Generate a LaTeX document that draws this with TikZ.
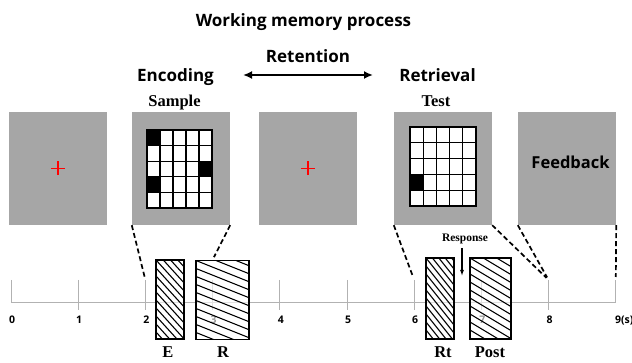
\documentclass[tikz,border=0pt]{standalone}
\usepackage{fontspec}
\setmainfont{Liberation Serif}
\newfontfamily\headfont{Open Sans}
\usetikzlibrary{arrows.meta}

\begin{document}
\begin{tikzpicture}[x=1pt, y=-1pt,
  screen/.style={fill=gray!70, minimum width=98pt, minimum height=113pt, inner sep=0pt},
  phase/.style={anchor=base, font=\headfont\bfseries\fontsize{17}{19}\selectfont},
  stim/.style={anchor=base, font=\bfseries\fontsize{16.5}{18}\selectfont},
  ticklabel/.style={anchor=base, font=\headfont\bfseries\fontsize{10.5}{12}\selectfont},
  link/.style={line width=1.7pt, dash pattern=on 5pt off 3pt, shorten >=3pt},
  slot/.style={draw, line width=1.3pt, fill=white, fill opacity=0.6, minimum height=79pt, inner sep=0pt},
  hatch/.style={path picture={
    \foreach \k in {-12,...,12}
      \draw[line width=1.1pt] ([yshift=-\k*8pt]path picture bounding box.north west) -- ++(70,{70*#1});}},
  cell/.style={draw, fill=white, line width=1.3pt}]

\useasboundingbox (0,0) rectangle (632,363);

\node[phase] (title) at (303.5,27) {Working memory process};
\node[phase] (ret) at (308,63) {Retention};
\node[phase] (enc) at (175.5,82) {Encoding};
\node[phase] (rtv) at (437.5,82) {Retrieval};
\coordinate (retL) at (243,75);
\coordinate (retR) at (373,75);
\draw[{Latex[length=9pt,width=8pt]}-{Latex[length=9pt,width=8pt]}, line width=2.2pt] (retL) -- (retR);

\node[stim] (sample) at (174.5,107) {Sample};
\node[stim] (test) at (436,107) {Test};

\node[screen] (s1) at (58,168.5) {};
\node[screen] (s2) at (181,168.5) {};
\node[screen] (s3) at (308,168.5) {};
\node[screen] (s4) at (443,168.5) {};
\node[screen] (s5) at (567,168.5) {};
\node[anchor=base, font=\headfont\bfseries\fontsize{16.5}{18}\selectfont] (fb) at (570.5,169) {Feedback};

\foreach \s in {s1,s3}
  \draw[red, line width=1.6pt] (\s.center) +(-7,0) -- +(7,0) (\s.center) +(0,-7) -- +(0,7);

\begin{scope}[shift={(147,130)}]
  \foreach \c in {0,...,4}
    \foreach \r in {0,...,4}
      \draw[cell] (\c*13,\r*15.6) rectangle ++(13,15.6);
  \foreach \c/\r in {0/0,4/2,0/3}
    \fill (\c*13,\r*15.6) rectangle ++(13,15.6);
\end{scope}

\begin{scope}[shift={(410,127)}]
  \foreach \c in {0,...,4}
    \foreach \r in {0,...,4}
      \draw[cell] (\c*13.2,\r*15.8) rectangle ++(13.2,15.8);
  \fill (0,3*15.8) rectangle ++(13.2,15.8);
\end{scope}

\draw[gray!60, line width=0.7pt] (11,302) -- (616,302);
\foreach \i in {0,...,9}{
  \coordinate (t\i) at ({11+67.2*\i},280);
  \draw[gray!60, line width=0.7pt] (t\i) -- ++(0,22);
}
\foreach \i in {1,...,8}
  \draw[gray!60, line width=0.7pt] ([yshift=-22pt]t\i) -- ++(0,8);
\foreach \i in {0,...,8}
  \node[ticklabel] at ({12+67.2*\i},324) {\i};
\node[ticklabel, anchor=base west] at (611.5,324) {9(s)};

\node[slot, minimum width=28pt, hatch=1.1] (E) at (170,299.5) {};
\node[slot, minimum width=53pt, hatch=0.4] (R) at (222.5,300) {};
\node[slot, minimum width=28pt, minimum height=81pt, hatch=1.25] (Rt) at (440,298.5) {};
\node[slot, minimum width=41pt, minimum height=81pt, hatch=0.6] (Post) at (490.5,298.5) {};

\node[stim] (lE) at (168,358) {E};
\node[stim] (lR) at (223,358) {R};
\node[stim] (lRt) at (443,358) {Rt};
\node[stim] (lPost) at (490,358) {Post};

\node[anchor=base, font=\bfseries\fontsize{11.5}{13}\selectfont] (resp) at (465,242) {Response};
\coordinate (respEnd) at (462,276);
\draw[-{Latex[length=6pt,width=4pt]}, line width=1.1pt] (resp.south -| respEnd) -- (respEnd);

\draw[link] (s2.south west) -- (t2);
\draw[link] (s2.south east) -- (R.north -| t3);
\draw[link] (s4.south west) -- (t6);
\draw[link] (s4.south east) -- (t8);
\draw[link] (s5.south west) -- (t8);
\draw[link] (s5.south east) -- (t9);
\end{tikzpicture}
\end{document}
